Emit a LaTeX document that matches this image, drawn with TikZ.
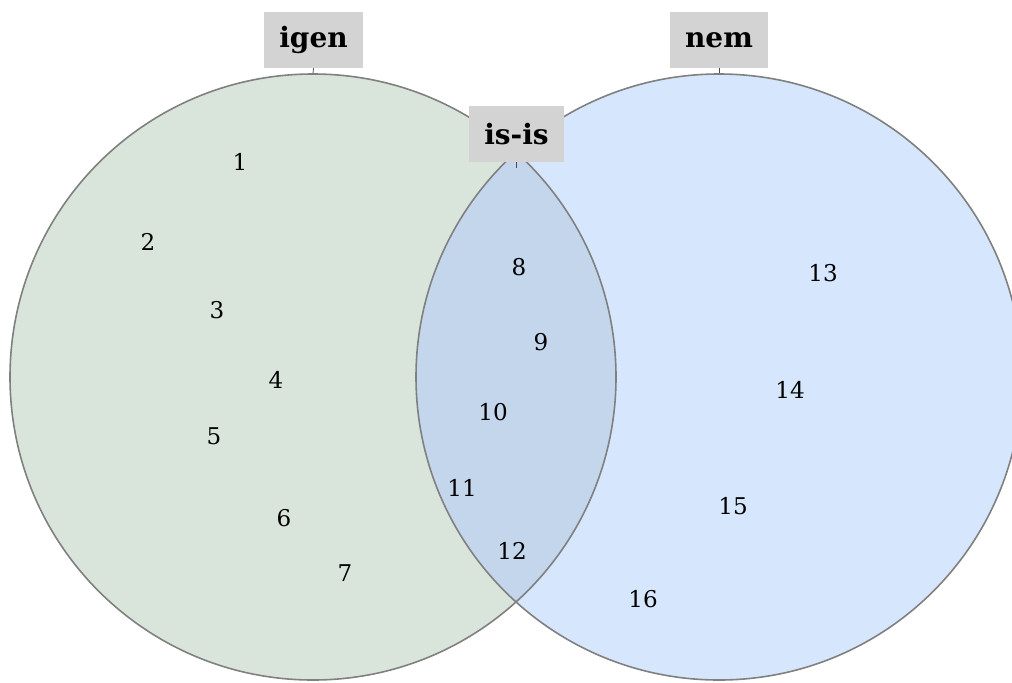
\documentclass[tikz,border=0pt]{standalone}
\usepackage{fontspec}
\setmainfont{DejaVu Serif}
\definecolor{leftfill}{HTML}{D9E5DB}
\definecolor{rightfill}{HTML}{D6E6FD}
\definecolor{interfill}{HTML}{C3D6EC}
\definecolor{edgegray}{HTML}{808080}
\definecolor{boxgray}{HTML}{D3D3D3}
\tikzset{
  setcircle/.style={circle, draw=edgegray, line width=1.2pt, minimum size=454.5pt, inner sep=0pt},
  setlabel/.style={fill=boxgray, font=\fontsize{21}{25}\selectfont\bfseries, inner sep=0pt, minimum height=42pt},
  item/.style={font=\fontsize{17.3}{20}\selectfont, inner sep=0pt},
  tick/.style={draw=black!70, line width=0.6pt}
}
\begin{document}
\begin{tikzpicture}[x=0.75pt,y=-0.75pt]
\useasboundingbox (0,0) rectangle (1012,682);
% fills
\fill[leftfill] (313,377) circle[radius=227.25pt];
\fill[rightfill] (719,377) circle[radius=227.25pt];
\begin{scope}
  \clip (313,377) circle[radius=227.25pt];
  \fill[interfill] (719,377) circle[radius=227.25pt];
\end{scope}
% outlines as named nodes
\node[setcircle] (L) at (313,377) {};
\node[setcircle] (R) at (719,377) {};
% labels
\node[setlabel, minimum width=74pt] (igen) at (313.5,40) {igen};
\node[setlabel, minimum width=73.5pt] (nem) at (719,40) {nem};
\node[setlabel, minimum width=71pt] (isis) at (516.5,134) {is-is};
\coordinate (isisend) at (516.5,168);
\draw[tick] (igen.south) -- (L.north);
\draw[tick] (nem.south) -- (R.north);
\draw[tick] (isis.south) -- (isisend);
% items
\node[item] (n1) at (240,162) {1};
\node[item] (n2) at (148,242) {2};
\node[item] (n3) at (217,310) {3};
\node[item] (n4) at (276,380) {4};
\node[item] (n5) at (214,436) {5};
\node[item] (n6) at (284,518) {6};
\node[item] (n7) at (345,573) {7};
\node[item] (n8) at (519,267) {8};
\node[item] (n9) at (541,342) {9};
\node[item] (n10) at (493,412) {10};
\node[item] (n11) at (462,488) {11};
\node[item] (n12) at (512,551) {12};
\node[item] (n13) at (823,273) {13};
\node[item] (n14) at (790,390) {14};
\node[item] (n15) at (733,506) {15};
\node[item] (n16) at (643,599) {16};
\end{tikzpicture}
\end{document}
